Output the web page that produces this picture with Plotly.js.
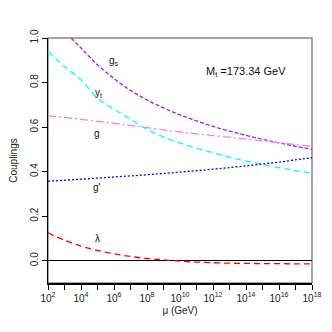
<!DOCTYPE html>
<html>
<head>
<meta charset="utf-8">
<script src="https://cdn.plot.ly/plotly-3.0.1.min.js"></script>
<style>
  html, body { margin: 0; padding: 0; background: white; }
  #chart { width: 332px; height: 332px; }
</style>
</head>
<body>
<div id="chart"></div>
<script>
// scale exponents, mu = 10^exp GeV
var gsExp = [3.4, 4, 5, 6, 7, 8, 9, 10, 11, 12, 13, 14, 15, 16, 17, 18];
var gsVal = [1.0, 0.955, 0.88, 0.818, 0.765, 0.722, 0.686, 0.655, 0.628, 0.603, 0.582, 0.563, 0.545, 0.529, 0.514, 0.50];

var ytExp = [2, 3, 4, 5, 6, 7, 8, 9, 10, 11, 12, 13, 14, 15, 16, 17, 18];
var ytVal = [0.94, 0.872, 0.812, 0.73, 0.68, 0.635, 0.59, 0.556, 0.528, 0.505, 0.485, 0.465, 0.448, 0.432, 0.418, 0.405, 0.393];

var gExp = [2, 4, 6, 8, 10, 12, 14, 16, 18];
var gVal = [0.651, 0.635, 0.617, 0.598, 0.578, 0.562, 0.546, 0.53, 0.514];

var gpExp = [2, 4, 6, 8, 10, 12, 14, 16, 18];
var gpVal = [0.357, 0.366, 0.376, 0.386, 0.398, 0.411, 0.426, 0.443, 0.463];

var lamExp = [2, 3, 4, 5, 6, 7, 8, 9, 10, 11, 12, 13, 14, 15, 16, 17, 18];
var lamVal = [0.125, 0.092, 0.066, 0.046, 0.031, 0.019, 0.010, 0.004, -0.002, -0.006, -0.009, -0.011, -0.012, -0.013, -0.013, -0.014, -0.014];

var tickExp = [2, 3, 4, 5, 6, 7, 8, 9, 10, 11, 12, 13, 14, 15, 16, 17, 18];
var yTicks = [0, 0.2, 0.4, 0.6, 0.8, 1.0];

function mu(e) { return Math.pow(10, e); }

function curve(ex, ys, color, dash) {
  return {
    x: ex.map(mu),
    y: ys,
    type: 'scatter',
    mode: 'lines',
    line: { color: color, width: 1.3, dash: dash, shape: 'spline' },
    hoverinfo: 'skip'
  };
}

var data = [
  curve(gsExp, gsVal, '#A020F0', '4px,2px'),
  curve(ytExp, ytVal, '#00FFFF', '6px,4px'),
  curve(gExp, gVal, '#EE82EE', '8px,3px,2px,3px'),
  curve(gpExp, gpVal, '#0000FF', '2px,2px'),
  curve(lamExp, lamVal, '#FF0000', '6px,4px')
];

var fontFam = 'Liberation Sans, Arial, sans-serif';

function lbl(x, y, text, size) {
  return {
    xref: 'paper', yref: 'paper', x: x, y: y,
    xanchor: 'center', yanchor: 'middle',
    text: text, showarrow: false,
    font: { family: fontFam, size: size || 10, color: '#111' }
  };
}

// pixel helpers for label placement
function px(x) { return (x - 48) / 264; }
function py(y) { return (283.5 - y) / 245.5; }

var layout = {
  width: 332,
  height: 332,
  margin: { l: 48, r: 20, t: 38, b: 48.5 },
  paper_bgcolor: 'white',
  plot_bgcolor: 'white',
  showlegend: false,
  font: { family: fontFam, size: 10, color: '#222' },
  xaxis: {
    type: 'log',
    range: [2, 18],
    tickvals: tickExp.map(mu),
    ticktext: tickExp.map(function (e) { return e % 2 === 0 ? '10<sup>' + e + '</sup>' : ''; }),
    ticks: 'outside',
    ticklen: 5,
    tickcolor: '#000',
    showline: true,
    linecolor: '#000',
    linewidth: 1.5,
    showgrid: false,
    zeroline: false,
    tickfont: { size: 10, color: '#222' },
    title: { text: 'μ (GeV)', font: { size: 10, color: '#222' }, standoff: 4 }
  },
  yaxis: {
    range: [-0.1, 1.0],
    tickvals: yTicks,
    ticktext: yTicks.map(function (v) { return v.toFixed(1); }),
    tickangle: -90,
    ticks: 'outside',
    ticklen: 5,
    tickcolor: '#000',
    showline: true,
    linecolor: '#000',
    linewidth: 1.5,
    showgrid: false,
    zeroline: true,
    zerolinecolor: '#000',
    zerolinewidth: 1.5,
    tickfont: { size: 10, color: '#222' },
    title: { text: 'Couplings', font: { size: 10, color: '#222' }, standoff: 9 }
  },
  shapes: [
    {
      type: 'rect', xref: 'paper', yref: 'paper', x0: 0, x1: 1, y0: 0, y1: 1,
      line: { color: '#888', width: 1.5 }, layer: 'below'
    }
  ],
  annotations: [
    lbl(px(114), py(61), 'g<sub>s</sub>'),
    lbl(px(98), py(93), 'y<sub>t</sub>'),
    lbl(px(97), py(134), 'g'),
    lbl(px(97), py(188), "g'"),
    lbl(px(97), py(239), 'λ'),
    lbl(px(246), py(72), 'M<sub>t</sub> =173.34 GeV', 11)
  ]
};

Plotly.newPlot('chart', data, layout, { displayModeBar: false, staticPlot: true });
</script>
</body>
</html>
